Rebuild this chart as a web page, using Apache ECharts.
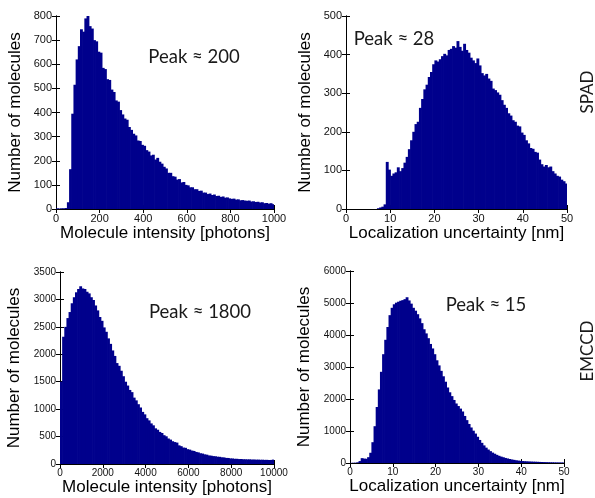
<!DOCTYPE html>
<html>
<head>
<meta charset="utf-8">
<title>Histograms SPAD / EMCCD</title>
<script src="https://cdn.jsdelivr.net/npm/echarts@6/dist/echarts.min.js"></script>
<style>
html, body { margin: 0; padding: 0; background: #fff; }
#chart { width: 595px; height: 498px; }
</style>
</head>
<body>
<div id="chart"></div>
<script>
// bin widths of the four histograms
var spadIntensityBin = 10;
var spadUncertaintyBin = 0.5;
var emccdIntensityBin = 100;
var emccdUncertaintyBin = 0.5;

// counts per bin
var spadIntensity = [3,2,3,3,4, 28,165,395,515,620, 675,745,735,790,800, 758,748,700,695,652,
	648,585,580,538,535, 495,485,450,445,410, 392,375,370,340,328, 312,305,284,282,266,
	262,244,238,222,225, 205,212,196,188,175, 168,150,150,136,134, 122,124,110,112,100,
	98,90,90,82,82, 75,76,68,68,62, 64,58,60,54,55, 50,52,47,48,44,
	42,43,39,40,36, 37,35,34,35,31, 32,29,30,27,28, 24,25,22,24,20];

var spadUncertainty = [0,0,0,0,0, 0,0,0,0,0, 0,0,0,0,2, 4,6,12,122,102,
	86,92,95,108,98, 106,120,135,155,178, 200,220,226,262,285, 310,322,342,355,375,
	385,382,388,396,402, 398,412,415,422,418, 435,420,410,428,412, 405,392,385,378,390,
	372,352,346,350,338, 332,312,308,302,296, 282,270,262,248,242, 230,226,216,214,198,
	192,178,170,158,156, 148,146,128,116,110, 114,108,110,98,92, 86,84,76,72,66];

var emccdIntensity = [1500,2320,2500,2660,2770, 2930,3040,3130,3190,3240, 3200,3190,3140,3110,3040,
	2990,2890,2800,2680,2610, 2490,2410,2290,2190,2070, 1970,1840,1790,1700,1600,
	1500,1430,1350,1310,1210, 1160,1090,1030,950,905, 835,795,740,705,650,
	625,585,565,525,505, 465,445,415,400,390, 340,325,300,295,270,
	262,245,238,220,212, 196,190,176,170,156, 152,144,141,133,131,
	122,120,111,110,102, 101,95,95,90,91, 87,86,84,85,81,
	82,79,80,77,78, 75,76,73,74,80];

var emccdUncertainty = [5,8,10,22,60, 152,138,132,182,320, 650,1150,1750,2300,2850,
	3400,3850,4250,4620,4850, 4960,5010,5040,5070,5090, 5120,5180,5080,4980,4850,
	4760,4650,4520,4370,4180, 4050,3900,3720,3580,3400, 3210,3050,2880,2710,2540,
	2360,2210,2090,1970,1860, 1780,1700,1610,1470,1340, 1220,1110,1010,920,820,
	720,630,550,480,420, 370,325,290,255,225, 200,180,158,142,125,
	110,98,86,76,68, 61,56,52,48,45, 42,40,37,34,31,
	29,27,25,23,22, 20,19,18,17,16];

var peakLabels = ['Peak \u2248 200', 'Peak \u2248 28', 'Peak \u2248 1800', 'Peak \u2248 15'];
var rowLabels = ['SPAD', 'EMCCD'];
var xNames = ['Molecule intensity [photons]', 'Localization uncertainty [nm]'];
var yName = 'Number of molecules';

var barColor = '#00008c';
var labelFont = "'Liberation Sans', Arial, sans-serif";
var noteFont = "Lato, 'Noto Sans', sans-serif";

function toPoints(counts, bin){
	var out = [];
	for (var i = 0; i < counts.length; i++) {
		out.push([bin * (i + 0.5), counts[i]]);
	}
	return out;
}

function histItem(bin){
	return function(params, api){
		var x = api.value(0), y = api.value(1);
		var p0 = api.coord([x - bin / 2, y]);
		var p1 = api.coord([x + bin / 2, 0]);
		// widen a little so neighbouring bins overlap (no seams)
		return {
			type: 'rect',
			shape: { x: p0[0], y: p0[1], width: p1[0] - p0[0] + 0.7, height: p1[1] - p0[1] },
			style: { fill: barColor }
		};
	};
}

function plain(v){ return String(v); }

var panels = [
	{ grid: {left:56, top:16, width:218, height:193}, xMax:1000, xInt:200, yMax:800, yInt:100, bin:spadIntensityBin, counts:spadIntensity, xName:xNames[0], fs:11, yGap:32, xGap:14 },
	{ grid: {left:346, top:16, width:221, height:193}, xMax:50, xInt:10, yMax:500, yInt:100, bin:spadUncertaintyBin, counts:spadUncertainty, xName:xNames[1], fs:11, yGap:32, xGap:14 },
	{ grid: {left:60, top:272, width:214, height:192}, xMax:10000, xInt:2000, yMax:3500, yInt:500, bin:emccdIntensityBin, counts:emccdIntensity, xName:xNames[0], fs:10, yGap:37, xGap:12 },
	{ grid: {left:350, top:271, width:214, height:192}, xMax:50, xInt:10, yMax:6000, yInt:1000, bin:emccdUncertaintyBin, counts:emccdUncertainty, xName:xNames[1], fs:10, yGap:37, xGap:12 }
];

var grids = [], xAxes = [], yAxes = [], series = [];
var lineStyle = { color: '#000', width: 1 };

panels.forEach(function(p, i){
	grids.push(p.grid);
	// bottom axis with labels
	xAxes.push({
		type:'value', gridIndex:i, min:0, max:p.xMax, interval:p.xInt, position:'bottom',
		name:p.xName, nameLocation:'middle', nameGap:p.xGap,
		nameTextStyle:{ fontFamily:labelFont, fontSize:17, color:'#000', verticalAlign:'top' },
		axisLine:{ show:true, lineStyle:lineStyle },
		axisTick:{ show:true, inside:true, length:4, lineStyle:lineStyle },
		axisLabel:{ fontFamily:labelFont, fontSize:p.fs, color:'#111', margin:4, formatter:plain },
		splitLine:{ show:false }
	});
	// top mirror axis
	xAxes.push({
		type:'value', gridIndex:i, min:0, max:p.xMax, interval:p.xInt, position:'top',
		axisLine:{ show:true, lineStyle:lineStyle },
		axisTick:{ show:true, inside:true, length:4, lineStyle:lineStyle },
		axisLabel:{ show:false }, splitLine:{ show:false }
	});
	yAxes.push({
		type:'value', gridIndex:i, min:0, max:p.yMax, interval:p.yInt, position:'left',
		name:yName, nameLocation:'middle', nameGap:p.yGap, nameRotate:90,
		nameTextStyle:{ fontFamily:labelFont, fontSize:17, color:'#000' },
		axisLine:{ show:true, lineStyle:lineStyle },
		axisTick:{ show:true, inside:true, length:4, lineStyle:lineStyle },
		axisLabel:{ fontFamily:labelFont, fontSize:p.fs, color:'#111', margin:4, formatter:plain },
		splitLine:{ show:false }
	});
	yAxes.push({
		type:'value', gridIndex:i, min:0, max:p.yMax, interval:p.yInt, position:'right',
		axisLine:{ show:true, lineStyle:lineStyle },
		axisTick:{ show:true, inside:true, length:4, lineStyle:lineStyle },
		axisLabel:{ show:false }, splitLine:{ show:false }
	});
	series.push({
		type:'custom', xAxisIndex:i * 2, yAxisIndex:i * 2,
		renderItem: histItem(p.bin), clip:true,
		encode:{ x:0, y:1 },
		data: toPoints(p.counts, p.bin),
		z: 1
	});
});

var peakPos = [[194, 57], [394, 39], [200, 312], [486, 305]];
var graphics = peakPos.map(function(pos, i){
	return {
		type:'text', x:pos[0], y:pos[1],
		style:{ text:peakLabels[i], fontFamily:noteFont, fontSize:18.5, fill:'#1a1a1a', align:'center', verticalAlign:'middle' }
	};
});
graphics.push({ type:'text', x:588, y:92, rotation:Math.PI / 2,
	style:{ text:rowLabels[0], fontFamily:noteFont, fontSize:17, fill:'#1a1a1a', align:'center', verticalAlign:'middle' } });
graphics.push({ type:'text', x:588, y:351, rotation:Math.PI / 2,
	style:{ text:rowLabels[1], fontFamily:noteFont, fontSize:17, fill:'#1a1a1a', align:'center', verticalAlign:'middle' } });

var myChart = echarts.init(document.getElementById('chart'));
myChart.setOption({
	animation:false,
	backgroundColor:'#fff',
	grid:grids,
	xAxis:xAxes,
	yAxis:yAxes,
	series:series,
	graphic:graphics
});
window.addEventListener('resize', function(){
	myChart.resize();
});
</script>
</body>
</html>
